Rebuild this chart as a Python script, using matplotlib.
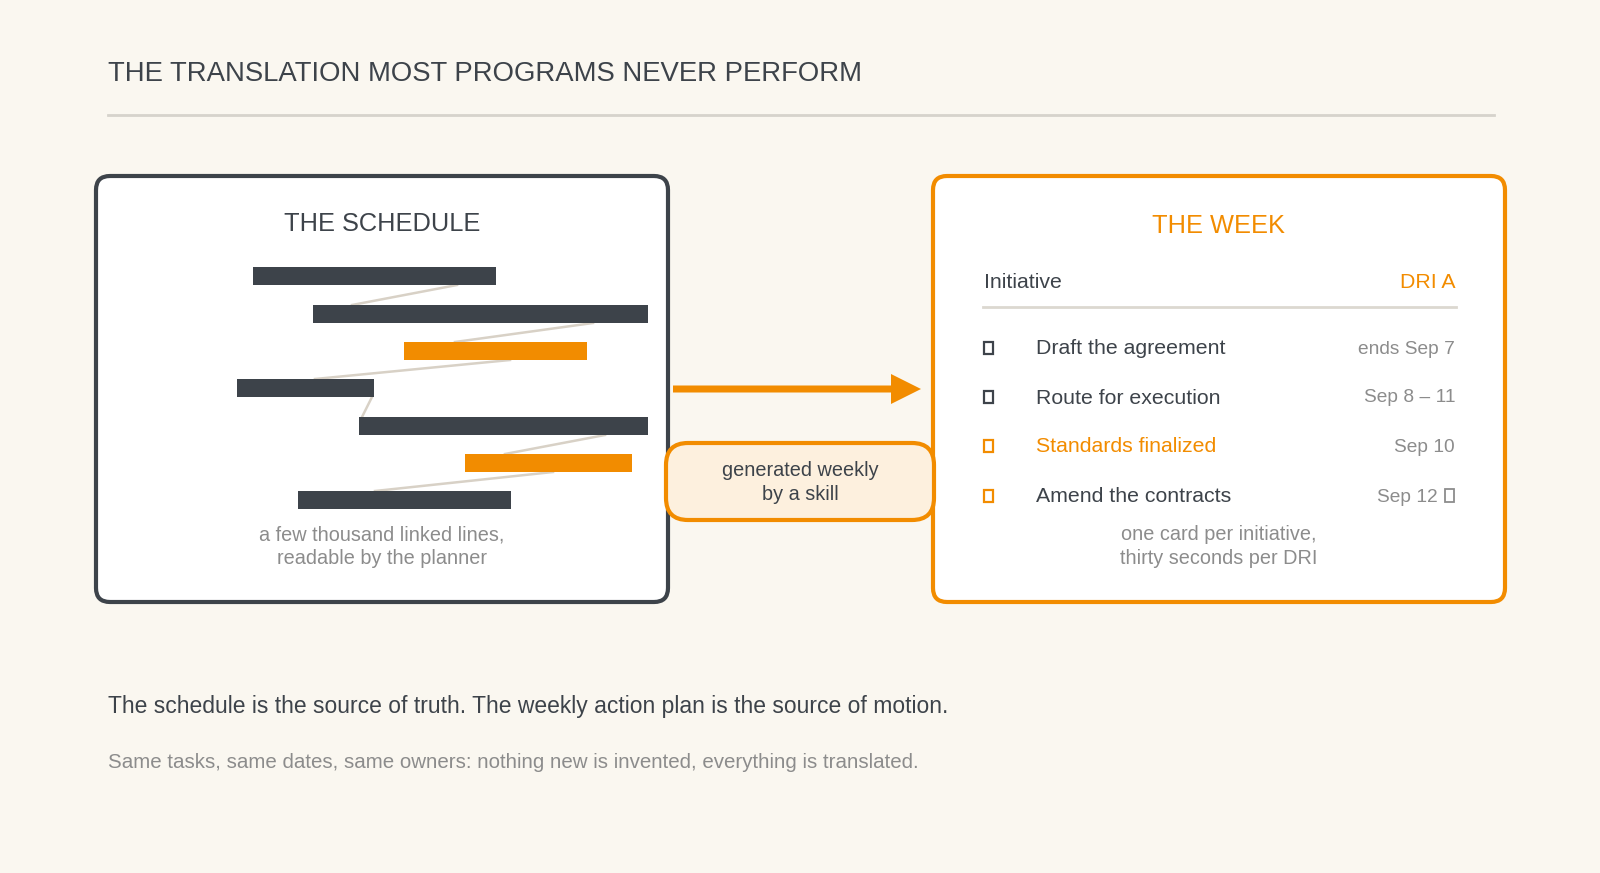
import matplotlib.pyplot as plt
from matplotlib.patches import FancyBboxPatch, Rectangle, FancyArrow

plt.rcParams['font.family'] = ['Liberation Sans', 'DejaVu Sans']

DARK = '#3d434a'
ORANGE = '#f28c00'
BG = '#faf7f0'
GRAY = '#8c8c8c'
LINK = '#d8d1c6'

# schedule bars: (x0, x1, y_top, highlighted)
bar_x0 = [253, 313, 404, 237, 359, 465, 298]
bar_x1 = [496, 648, 587, 374, 648, 632, 511]
bar_top = [267, 305, 342, 379, 417, 454, 491]
bar_hot = [False, False, True, False, False, True, False]
bar_h = 18
# dependency links: (x on bottom of bar i, x on top of bar i+1)
link_from = [457, 593, 510, 372, 605, 553]
link_to = [352, 455, 315, 362, 505, 375]

tasks = ['Draft the agreement', 'Route for execution', 'Standards finalized', 'Amend the contracts']
dates = ['ends Sep 7', 'Sep 8 – 11', 'Sep 10', 'Sep 12']
task_hot = [False, False, True, False]
box_hot = [False, False, True, True]
row_y = [348, 397, 446, 496]

fig = plt.figure(figsize=(16, 8.73), dpi=100, facecolor=BG)
ax = fig.add_axes([0, 0, 1, 1])
ax.set_xlim(0, 1600)
ax.set_ylim(873, 0)
ax.axis('off')
ax.set_facecolor(BG)

ax.text(108, 74, 'THE TRANSLATION MOST PROGRAMS NEVER PERFORM', fontsize=19.8, color=DARK, va='center')
ax.plot([108, 1494], [115, 115], color='#d6d3cc', lw=2)

# left card
ax.add_patch(FancyBboxPatch((96, 176), 572, 426, boxstyle='round,pad=0,rounding_size=14',
                            fc='white', ec=DARK, lw=3))
ax.text(382, 224, 'THE SCHEDULE', fontsize=18.3, color=DARK, ha='center', va='center')
for i in range(len(link_from)):
    ax.plot([link_from[i], link_to[i]], [bar_top[i] + bar_h, bar_top[i + 1]], color=LINK, lw=1.8, zorder=2)
for x0, x1, yt, hot in zip(bar_x0, bar_x1, bar_top, bar_hot):
    ax.add_patch(Rectangle((x0, yt), x1 - x0, bar_h, fc=ORANGE if hot else DARK, ec='none', zorder=3))
ax.text(382, 535, 'a few thousand linked lines,', fontsize=14.3, color=GRAY, ha='center', va='center')
ax.text(382, 558, 'readable by the planner', fontsize=14.3, color=GRAY, ha='center', va='center')

# arrow and label
ax.add_patch(FancyArrow(673, 389, 248, 0, width=7, head_width=30, head_length=30,
                        length_includes_head=True, fc=ORANGE, ec='none'))
ax.add_patch(FancyBboxPatch((666, 443), 268, 77, boxstyle='round,pad=0,rounding_size=22',
                            fc='#fdf0de', ec=ORANGE, lw=3, zorder=4))
ax.text(800, 471, 'generated weekly', fontsize=14.3, color=DARK, ha='center', va='center', zorder=5)
ax.text(800, 494, 'by a skill', fontsize=14.3, color=DARK, ha='center', va='center', zorder=5)

# right card
ax.add_patch(FancyBboxPatch((933, 176), 572, 426, boxstyle='round,pad=0,rounding_size=14',
                            fc='white', ec=ORANGE, lw=3))
ax.text(1219, 226, 'THE WEEK', fontsize=18.3, color=ORANGE, ha='center', va='center')
ax.text(984, 282, 'Initiative', fontsize=15.3, color=DARK, va='center')
ax.text(1455, 282, 'DRI A', fontsize=15.3, color=ORANGE, ha='right', va='center')
ax.plot([983, 1456], [307, 307], color='#dcd8d0', lw=2)
for t, d, th, bh, y in zip(tasks, dates, task_hot, box_hot, row_y):
    ax.add_patch(Rectangle((984, y - 6), 9, 12, fc='none', ec=ORANGE if bh else DARK, lw=1.6))
    ax.text(1036, y + 1, t, fontsize=15.3, color=ORANGE if th else DARK, va='center')
    if d == dates[-1]:
        ax.add_patch(Rectangle((1445, y - 7), 9, 13, fc='none', ec=GRAY, lw=1.3))
        ax.text(1438, y + 1, d, fontsize=13.8, color=GRAY, ha='right', va='center')
    else:
        ax.text(1455, y + 1, d, fontsize=13.8, color=GRAY, ha='right', va='center')
ax.text(1219, 535, 'one card per initiative,', fontsize=14.3, color=GRAY, ha='center', va='center')
ax.text(1219, 558, 'thirty seconds per DRI', fontsize=14.3, color=GRAY, ha='center', va='center')

ax.text(108, 706, 'The schedule is the source of truth. The weekly action plan is the source of motion.',
        fontsize=16.5, color=DARK, va='center')
ax.text(108, 762, 'Same tasks, same dates, same owners: nothing new is invented, everything is translated.',
        fontsize=14.8, color=GRAY, va='center')

fig.savefig('out.png', dpi=100, facecolor=BG)
